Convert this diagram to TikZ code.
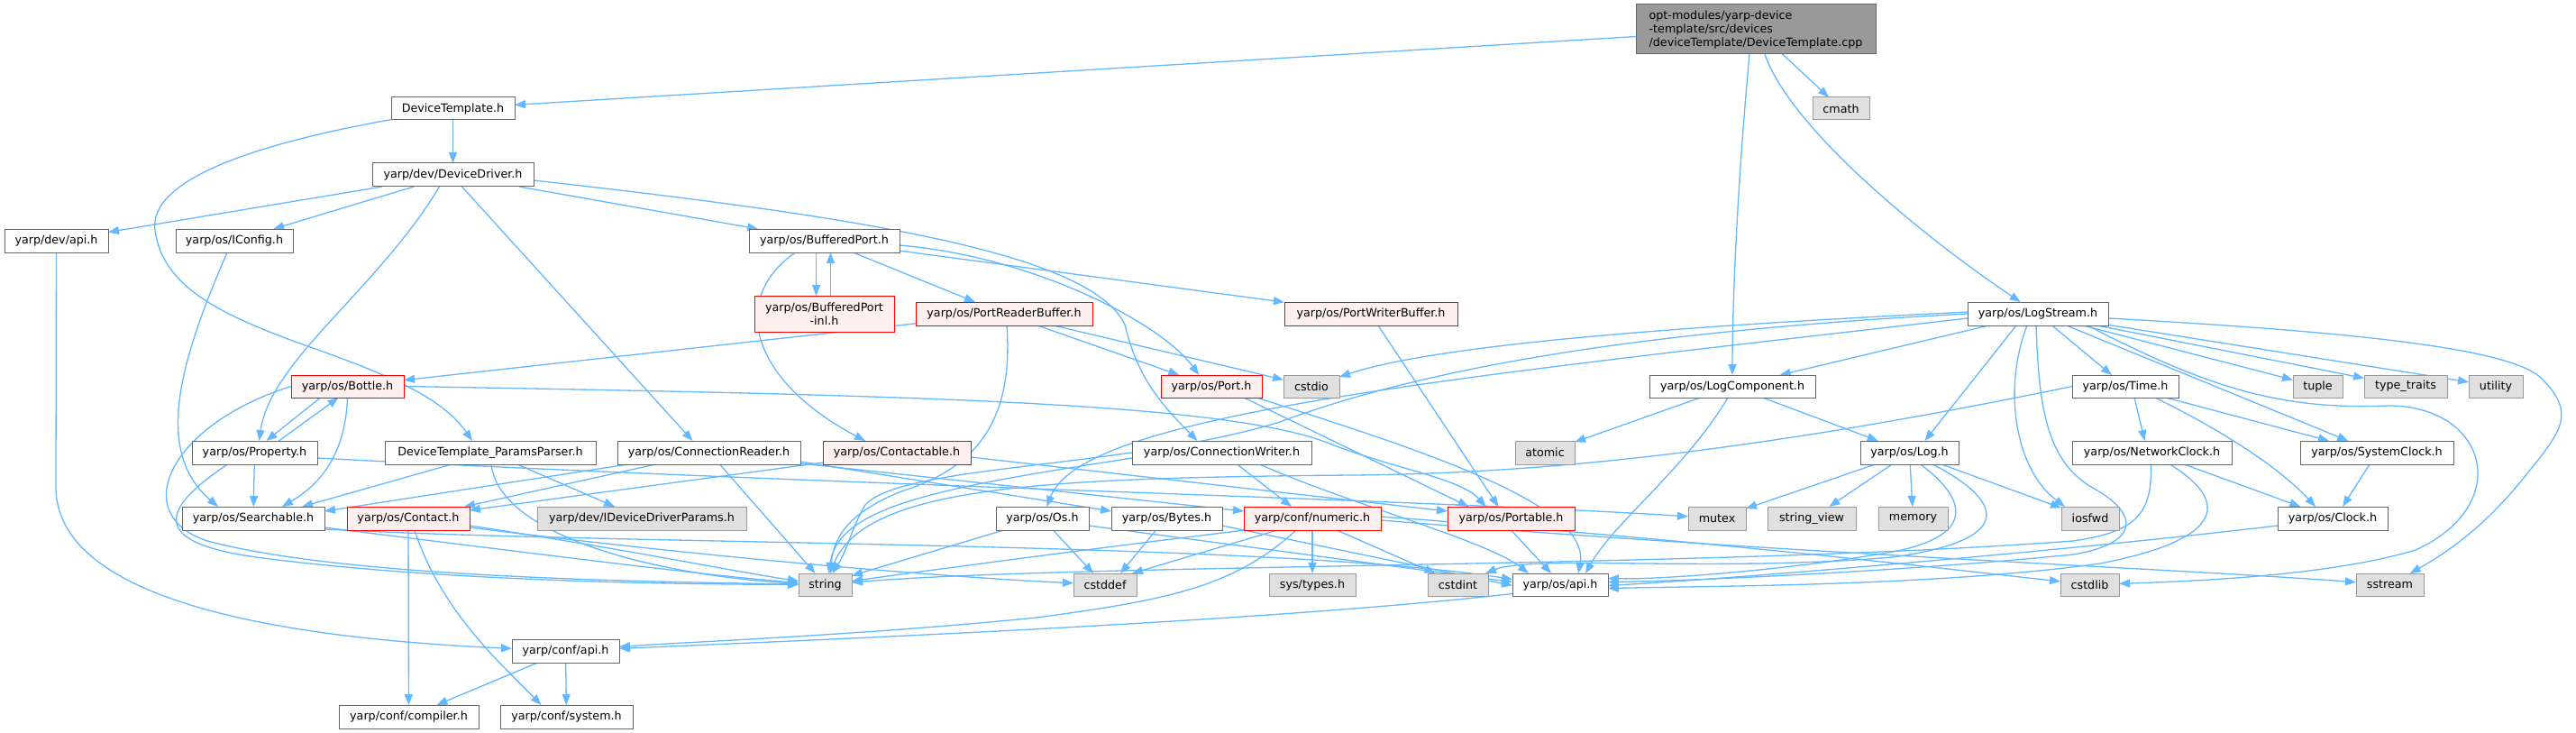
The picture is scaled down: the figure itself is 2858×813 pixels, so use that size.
\documentclass[tikz,border=0pt]{standalone}
\usepackage{fontspec}
\setmainfont{DejaVu Sans}
\usetikzlibrary{arrows.meta,calc}
\definecolor{edgec}{HTML}{63B8FF}
\definecolor{redfill}{HTML}{FFF0F0}
\definecolor{grayfill}{HTML}{E0E0E0}
\definecolor{grayline}{HTML}{999999}
\definecolor{darkline}{HTML}{666666}
\definecolor{mainfill}{HTML}{999999}
\pgfdeclarelayer{bg}
\pgfsetlayers{bg,main}
\newcommand{\bx}[7]{\node[#1, minimum width={(#4-#3)*1pt}, minimum height={(#6-#5)*1pt}] (#2) at ({(#3+#4)/2},{(#5+#6)/2}) {#7};}
\tikzset{
  base/.style={draw, line width=1pt, inner sep=0pt, outer sep=0pt, align=center, font=\fontsize{12.7}{15}\selectfont},
  wbox/.style={base, draw=darkline, fill=white},
  gbox/.style={base, draw=grayline, fill=grayfill},
  rbox/.style={base, draw=red, fill=redfill},
  mbox/.style={base, draw=darkline, fill=mainfill, align=left},
  e/.style={draw=edgec, line width=1.3pt, -{Triangle[length=12pt,width=9pt]}}
}
\begin{document}
\begin{tikzpicture}[x=1pt,y=-1pt]
\useasboundingbox (0,0) rectangle (2858,813);
% nodes
\bx{mbox}{main}{1815}{2081}{5}{60}{opt-modules/yarp-device\\-template/src/devices\\/deviceTemplate/DeviceTemplate.cpp}
\bx{wbox}{DT}{434}{571}{108}{133}{DeviceTemplate.h}
\bx{wbox}{DD}{413}{592}{181}{207}{yarp/dev/DeviceDriver.h}
\bx{wbox}{devapi}{5}{120}{254}{280}{yarp/dev/api.h}
\bx{wbox}{iconfig}{195}{325}{254}{280}{yarp/os/IConfig.h}
\bx{wbox}{bport}{831}{998}{254}{280}{yarp/os/BufferedPort.h}
\bx{rbox}{bpinl}{837}{992}{328}{368}{yarp/os/BufferedPort\\-inl.h}
\bx{gbox}{cmath}{2011}{2074}{108}{133}{cmath}
\bx{rbox}{prb}{1016}{1212}{335}{361}{yarp/os/PortReaderBuffer.h}
\bx{rbox}{pwb}{1425}{1617}{335}{361}{yarp/os/PortWriterBuffer.h}
\bx{wbox}{logstream}{2183}{2339}{335}{361}{yarp/os/LogStream.h}
\bx{rbox}{bottle}{323}{448}{416}{441}{yarp/os/Bottle.h}
\bx{rbox}{port}{1288}{1400}{416}{441}{yarp/os/Port.h}
\bx{gbox}{cstdio}{1424}{1486}{416}{441}{cstdio}
\bx{wbox}{logcomp}{1830}{2014}{416}{441}{yarp/os/LogComponent.h}
\bx{wbox}{time}{2299}{2417}{416}{441}{yarp/os/Time.h}
\bx{gbox}{tuple}{2544}{2599}{416}{441}{tuple}
\bx{gbox}{typetraits}{2623}{2715}{416}{441}{type\_traits}
\bx{gbox}{utility}{2739}{2799}{416}{441}{utility}
\bx{wbox}{property}{213}{352}{489}{515}{yarp/os/Property.h}
\bx{wbox}{params}{427}{661}{489}{515}{DeviceTemplate\_ParamsParser.h}
\bx{wbox}{connreader}{685}{888}{489}{515}{yarp/os/ConnectionReader.h}
\bx{rbox}{contactable}{913}{1077}{489}{515}{yarp/os/Contactable.h}
\bx{wbox}{connwriter}{1256}{1455}{489}{515}{yarp/os/ConnectionWriter.h}
\bx{gbox}{atomic}{1681}{1747}{489}{515}{atomic}
\bx{wbox}{log}{2064}{2173}{489}{515}{yarp/os/Log.h}
\bx{wbox}{netclock}{2299}{2476}{489}{515}{yarp/os/NetworkClock.h}
\bx{wbox}{sysclock}{2552}{2722}{489}{515}{yarp/os/SystemClock.h}
\bx{wbox}{searchable}{202}{360}{562}{588}{yarp/os/Searchable.h}
\bx{rbox}{contact}{385}{521}{562}{588}{yarp/os/Contact.h}
\bx{gbox}{iddp}{596}{828}{562}{588}{yarp/dev/IDeviceDriverParams.h}
\bx{wbox}{os}{1105}{1208}{562}{588}{yarp/os/Os.h}
\bx{wbox}{bytes}{1233}{1356}{562}{588}{yarp/os/Bytes.h}
\bx{rbox}{numeric}{1380}{1532}{562}{588}{yarp/conf/numeric.h}
\bx{rbox}{portable}{1606}{1747}{562}{588}{yarp/os/Portable.h}
\bx{gbox}{mutex}{1873}{1937}{562}{588}{mutex}
\bx{gbox}{stringview}{1961}{2059}{562}{588}{string\_view}
\bx{gbox}{memory}{2084}{2161}{562}{588}{memory}
\bx{gbox}{iosfwd}{2287}{2351}{562}{588}{iosfwd}
\bx{wbox}{clock}{2527}{2649}{562}{588}{yarp/os/Clock.h}
\bx{gbox}{string}{886}{945}{636}{661}{string}
\bx{gbox}{cstddef}{1191}{1261}{636}{661}{cstddef}
\bx{gbox}{systypes}{1408}{1504}{636}{661}{sys/types.h}
\bx{gbox}{cstdint}{1584}{1651}{636}{661}{cstdint}
\bx{wbox}{osapi}{1678}{1784}{636}{661}{yarp/os/api.h}
\bx{gbox}{cstdlib}{2286}{2351}{636}{661}{cstdlib}
\bx{gbox}{sstream}{2614}{2689}{636}{661}{sstream}
\bx{wbox}{confapi}{568}{687}{709}{735}{yarp/conf/api.h}
\bx{wbox}{compiler}{376}{531}{782}{808}{yarp/conf/compiler.h}
\bx{wbox}{system}{555}{702}{782}{808}{yarp/conf/system.h}
\begin{pgfonlayer}{bg}
\fill[white] (0,0) rectangle (2858,813);
% main
\draw[e] (main) -- (DT);
\draw[e] (main) -- (cmath);
\draw[e] ($(main.south)+(-7,0)$) .. controls (1928,200) and (1922,330) .. (logcomp);
\draw[e] ($(main.south)+(10,0)$) .. controls (1985,140) and (2130,260) .. (logstream);
% DeviceTemplate.h
\draw[e] (DT) -- (DD);
\draw[e] (DT) .. controls (280,160) and (165,200) .. (172,255) .. controls (180,320) and (250,350) .. (330,380) .. controls (430,415) and (490,440) .. ($(params.north)+(-20,0)$);
% DeviceDriver.h
\draw[e] (DD) -- (devapi);
\draw[e] (DD) -- (iconfig);
\draw[e] ($(DD.south)+(-15,0)$) .. controls (420,320) and (300,400) .. ($(property.north)+(5,0)$);
\draw[e] ($(DD.south)+(10,0)$) -- ($(connreader.north)+(-18,0)$);
\draw[e] (DD) -- (bport);
\draw[e] ($(DD.east)+(0,6)$) .. controls (950,240) and (1210,280) .. (1248,360) .. controls (1262,420) and (1290,450) .. ($(connwriter.north)+(-27,0)$);
% dev/api.h, IConfig.h
\draw[e] (devapi) -- (62,540) .. controls (62,650) and (250,705) .. (confapi);
\draw[e] ($(iconfig.south)+(-8,0)$) .. controls (200,400) and (170,500) .. ($(searchable.north)+(-39,0)$);
% BufferedPort.h
\draw[e] ($(bport.south)+(-9,0)$) -- ($(bpinl.north)+(-9,0)$);
\draw[e] ($(bpinl.north)+(7,0)$) -- ($(bport.south)+(7,0)$);
\draw[e] (bport) -- (prb);
\draw[e] (bport) -- (pwb);
\draw[e] ($(bport.east)+(0,5)$) .. controls (1150,285) and (1290,360) .. ($(port.north)+(-14,0)$);
\draw[e] ($(bport.south)+(-32,0)$) .. controls (810,330) and (830,420) .. ($(contactable.north)+(-35,0)$);
% PortReaderBuffer.h, PortWriterBuffer.h
\draw[e] (prb) -- (bottle);
\draw[e] (prb) -- (port);
\draw[e] (prb) -- (cstdio);
\draw[e] ($(prb.south)+(3,0)$) .. controls (1125,470) and (1080,520) .. (1000,545) .. controls (950,565) and (925,590) .. ($(string.north)+(6,0)$);
\draw[e] ($(pwb.south)+(8,0)$) -- ($(portable.north)+(-14,0)$);
% Port.h
\draw[e] ($(port.south)+(36,0)$) -- ($(portable.north)+(-47,0)$);
\draw[e] ($(port.south)+(50,0)$) .. controls (1580,500) and (1765,560) .. ($(osapi.north)+(20,0)$);
% Bottle.h
\draw[e] ($(bottle.south)+(-30,0)$) -- ($(property.north)+(13,0)$);
\draw[e] ($(property.north)+(27,0)$) -- ($(bottle.south)+(-10,0)$);
\draw[e] (bottle.south) .. controls (383,510) and (350,540) .. ($(searchable.north)+(32,0)$);
\draw[e] (bottle.west) .. controls (190,470) and (140,570) .. (230,600) .. controls (380,640) and (700,645) .. (string);
\draw[e] (bottle.east) .. controls (1000,438) and (1350,446) .. (1470,490) .. controls (1545,520) and (1620,530) .. ($(portable.north)+(-28,0)$);
% Property.h
\draw[e] (property) -- (searchable);
\draw[e] ($(property.south)+(-30,0)$) .. controls (170,570) and (170,605) .. (300,620) .. controls (500,645) and (750,648) .. (string);
\draw[e] ($(property.east)+(0,6)$) .. controls (900,537) and (1600,555) .. (mutex);
% Searchable.h
\draw[e] ($(searchable.east)+(0,10)$) .. controls (600,615) and (800,640) .. (string);
\draw[e] ($(searchable.east)+(0,12)$) .. controls (700,605) and (1400,600) .. ($(osapi.west)+(0,-6)$);
% Contact.h
\draw[e] (contact) -- (compiler);
\draw[e] ($(contact.south)+(7,0)$) .. controls (490,680) and (560,740) .. ($(system.north)+(-28,0)$);
\draw[e] ($(contact.east)+(0,8)$) .. controls (700,610) and (820,635) .. (string);
\draw[e] ($(contact.east)+(0,10)$) .. controls (800,620) and (1050,640) .. (cstddef);
% ParamsParser
\draw[e] ($(params.south)+(-43,0)$) -- ($(searchable.north)+(54,0)$);
\draw[e] (params) -- (iddp);
\draw[e] ($(params.south)+(1,0)$) .. controls (555,600) and (750,640) .. (string);
% ConnectionReader.h
\draw[e] ($(connreader.south)+(-90,0)$) -- ($(searchable.east)+(0,-8)$);
\draw[e] ($(connreader.south)+(-59,0)$) -- ($(contact.north)+(62,0)$);
\draw[e] ($(connreader.south)+(12,0)$) -- ($(string.north)+(-11,0)$);
\draw[e] ($(connreader.east)+(0,10)$) -- ($(bytes.west)+(0,-8)$);
\draw[e] ($(connreader.east)+(0,12)$) -- ($(numeric.west)+(0,-8)$);
% Contactable.h
\draw[e] (contactable) -- (contact);
\draw[e] ($(contactable.east)+(0,5)$) -- ($(portable.west)+(0,-8)$);
% ConnectionWriter.h
\draw[e] ($(connwriter.south)+(17,0)$) -- ($(numeric.north)+(-23,0)$);
\draw[e] ($(connwriter.south)+(42,0)$) .. controls (1500,560) and (1650,600) .. ($(osapi.north)+(-35,0)$);
\draw[e] ($(connwriter.west)+(0,6)$) .. controls (1050,540) and (930,560) .. ($(string.north)+(4,0)$);
% Os.h, Bytes.h
\draw[e] ($(os.south)+(-43,0)$) -- ($(string.east)+(0,-10)$);
\draw[e] ($(os.south)+(12,0)$) -- ($(cstddef.north)+(-13,0)$);
\draw[e] ($(os.east)+(0,8)$) -- ($(osapi.west)+(0,-3)$);
\draw[e] ($(bytes.south)+(-12,0)$) -- ($(cstddef.north)+(17,0)$);
\draw[e] ($(bytes.east)+(0,8)$) -- ($(osapi.west)+(0,1)$);
% numeric.h
\draw[e] ($(numeric.south)+(-75,0)$) .. controls (1200,610) and (1050,630) .. ($(string.east)+(0,-4)$);
\draw[e] ($(numeric.south)+(-39,0)$) -- ($(cstddef.north)+(30,0)$);
\draw[e] (numeric) -- (systypes);
\draw[e] ($(numeric.south)+(27,0)$) -- ($(cstdint.north)+(-25,0)$);
\draw[e] ($(numeric.south)+(-18,0)$) .. controls (1370,650) and (1300,665) .. (1150,685) .. controls (950,705) and (760,712) .. (confapi);
\draw[e] ($(numeric.east)+(0,-2)$) .. controls (1900,600) and (2150,630) .. (cstdlib);
\draw[e] ($(numeric.east)+(0,2)$) .. controls (2000,615) and (2400,630) .. (sstream);
% Portable.h, os/api.h, conf/api.h
\draw[e] (portable.south) -- ($(osapi.north)+(-10,0)$);
\draw[e] ($(osapi.west)+(0,10)$) .. controls (1400,690) and (900,710) .. (confapi);
\draw[e] (confapi) -- (compiler);
\draw[e] (confapi) -- (system);
% LogStream.h
\draw[e] ($(logstream.west)+(0,-2)$) .. controls (1900,360) and (1600,380) .. (cstdio);
\draw[e] (logstream.west) .. controls (1800,368) and (1570,412) .. (1420,468) .. controls (1250,520) and (1000,515) .. (960,560) .. controls (945,585) and (940,610) .. (string);
\draw[e] ($(logstream.west)+(0,5)$) .. controls (1600,420) and (1200,460) .. (os);
\draw[e] (logstream) -- (logcomp);
\draw[e] ($(logstream.south)+(-24,0)$) -- ($(log.north)+(17,0)$);
\draw[e] ($(logstream.south)+(-12,0)$) .. controls (2222,430) and (2235,520) .. ($(iosfwd.north)+(-28,0)$);
\draw[e] ($(logstream.south)+(-2,0)$) .. controls (2262,450) and (2270,510) .. (2320,540) .. controls (2372,568) and (2378,602) .. (2300,615) .. controls (2100,635) and (1850,645) .. ($(osapi.east)+(0,-3)$);
\draw[e] (logstream) -- (time);
\draw[e] (logstream) -- (tuple);
\draw[e] (logstream) -- (typetraits);
\draw[e] (logstream) -- (utility);
\draw[e] (logstream) -- (sysclock);
\draw[e] ($(logstream.south)+(55,0)$) .. controls (2450,430) and (2530,455) .. (2650,450) .. controls (2760,450) and (2790,560) .. (2680,610) .. controls (2580,640) and (2420,645) .. (cstdlib);
\draw[e] ($(logstream.east)+(0,5)$) .. controls (2650,370) and (2790,390) .. (2820,420) .. controls (2860,460) and (2840,480) .. (2800,530) .. controls (2760,580) and (2720,610) .. (sstream);
% Time.h
\draw[e] ($(time.south)+(10,0)$) -- ($(netclock.north)+(-8,0)$);
\draw[e] ($(time.south)+(33,0)$) .. controls (2470,480) and (2530,520) .. ($(clock.north)+(-19,0)$);
\draw[e] ($(time.south)+(45,0)$) -- ($(sysclock.north)+(-53,0)$);
\draw[e] (time.west) .. controls (2000,490) and (1750,525) .. (1500,527) .. controls (1150,530) and (960,540) .. (string);
% NetworkClock.h, SystemClock.h, Clock.h
\draw[e] ($(netclock.south)+(-1,0)$) .. controls (2388,570) and (2370,590) .. (2300,600) .. controls (1900,630) and (1200,625) .. (string);
\draw[e] ($(netclock.south)+(20,0)$) .. controls (2480,560) and (2460,600) .. (2330,625) .. controls (2150,650) and (1900,650) .. ($(osapi.east)+(0,4)$);
\draw[e] (netclock) -- (clock);
\draw[e] ($(sysclock.south)+(-8,0)$) -- ($(clock.north)+(11,0)$);
\draw[e] ($(clock.west)+(0,8)$) .. controls (2300,610) and (1950,640) .. ($(osapi.east)+(0,1)$);
% LogComponent.h, Log.h
\draw[e] (logcomp) -- (atomic);
\draw[e] (logcomp) -- (log);
\draw[e] ($(logcomp.south)+(-5,0)$) .. controls (1870,520) and (1790,580) .. ($(osapi.north)+(28,0)$);
\draw[e] (log) -- (mutex);
\draw[e] (log) -- (stringview);
\draw[e] (log) -- (memory);
\draw[e] (log) -- (iosfwd);
\draw[e] ($(log.south)+(12,0)$) .. controls (2185,555) and (2190,595) .. (2100,612) .. controls (2000,630) and (1850,643) .. ($(osapi.east)+(0,-7)$);
\draw[e] ($(log.south)+(26,0)$) .. controls (2230,560) and (2230,600) .. (2100,618) .. controls (1900,635) and (1700,615) .. ($(cstdint.north east)+(-3,0)$);
\end{pgfonlayer}
\end{tikzpicture}
\end{document}
